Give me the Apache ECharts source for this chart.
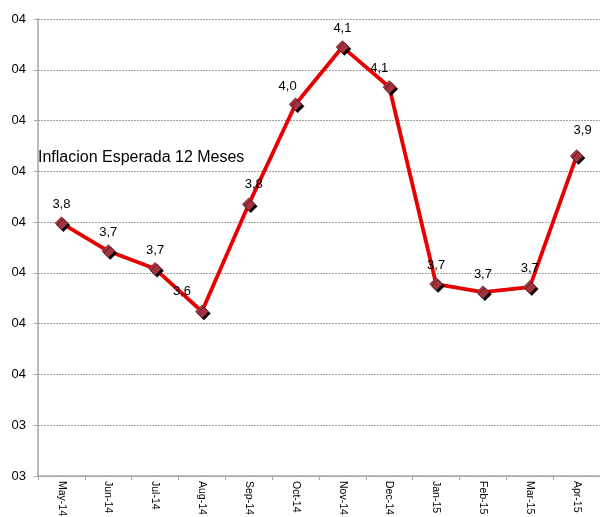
<!DOCTYPE html>
<html>
<head>
<meta charset="utf-8">
<script src="https://cdn.jsdelivr.net/npm/echarts@6/dist/echarts.min.js"></script>
<style>html,body{margin:0;padding:0;background:#fff;}#c{width:600px;height:517px;}</style>
</head>
<body>
<div id="c"></div>
<script>
var categories = ['May-14','Jun-14','Jul-14','Aug-14','Sep-14','Oct-14','Nov-14','Dec-14','Jan-15','Feb-15','Mar-15','Apr-15'];
var inflacion = [3.798, 3.743, 3.708, 3.624, 3.835, 4.032, 4.145, 4.066, 3.678, 3.662, 3.672, 3.930];
var seriesName = 'Inflacion Esperada 12 Meses';
var yMin = 3.3, yMax = 4.2, yStep = 0.1;
// label nudges (style only)
var labelNudges = [[0,0],[0,0],[0,0],[-20,-2],[5,-2],[-8,0],[0,0],[-10,0],[0,0],[0,0],[0,0],[6,-7]];

var chart = echarts.init(document.getElementById('c'));
var data = inflacion.map(function(v,i){
  return {value: v, label: {offset: labelNudges[i]}};
});
chart.setOption({
  animation: false,
  backgroundColor: '#fff',
  title: {
    text: seriesName, left: 33, top: 145,
    textStyle: {fontFamily: 'Liberation Sans, Arial, sans-serif', fontSize: 16, fontWeight: 'normal', color: '#000'}
  },
  grid: {left: 38, right: 0, top: 19, bottom: 41, outerBoundsMode: 'none', containLabel: false},
  xAxis: {
    type: 'category', data: categories, boundaryGap: true,
    axisLine: {lineStyle: {color: '#a6a6a6', width: 1.5}},
    axisTick: {show: true, interval: 0, length: 4, lineStyle: {color: '#a6a6a6'}},
    axisLabel: {interval: 0, rotate: -90, margin: 5, fontSize: 10.5, color: '#000', fontFamily: 'Liberation Sans, Arial, sans-serif'}
  },
  yAxis: {
    type: 'value', min: yMin, max: yMax, interval: yStep,
    axisLine: {show: true, lineStyle: {color: '#a6a6a6', width: 1.5}},
    axisTick: {show: true, length: 4, lineStyle: {color: '#a6a6a6'}},
    splitLine: {show: true, lineStyle: {color: '#a0a0a0', type: [2, 1], width: 1}},
    axisLabel: {margin: 12, fontSize: 13, color: '#000', fontFamily: 'Liberation Sans, Arial, sans-serif',
      formatter: function(v){ return '0' + Math.round(v); }}
  },
  series: [{
    name: seriesName, type: 'line', data: data,
    symbol: 'diamond', symbolSize: 13,
    lineStyle: {color: '#e60000', width: 3.8},
    itemStyle: {color: '#a3343f', borderColor: '#7a2530', borderWidth: 0.5,
      shadowColor: '#000', shadowBlur: 0, shadowOffsetX: 2, shadowOffsetY: 2},
    label: {show: true, position: 'top', distance: 5, fontSize: 13, color: '#000',
      fontFamily: 'Liberation Sans, Arial, sans-serif',
      formatter: function(p){ return p.value.toFixed(1).replace('.', ','); }}
  }]
});
</script>
</body>
</html>
